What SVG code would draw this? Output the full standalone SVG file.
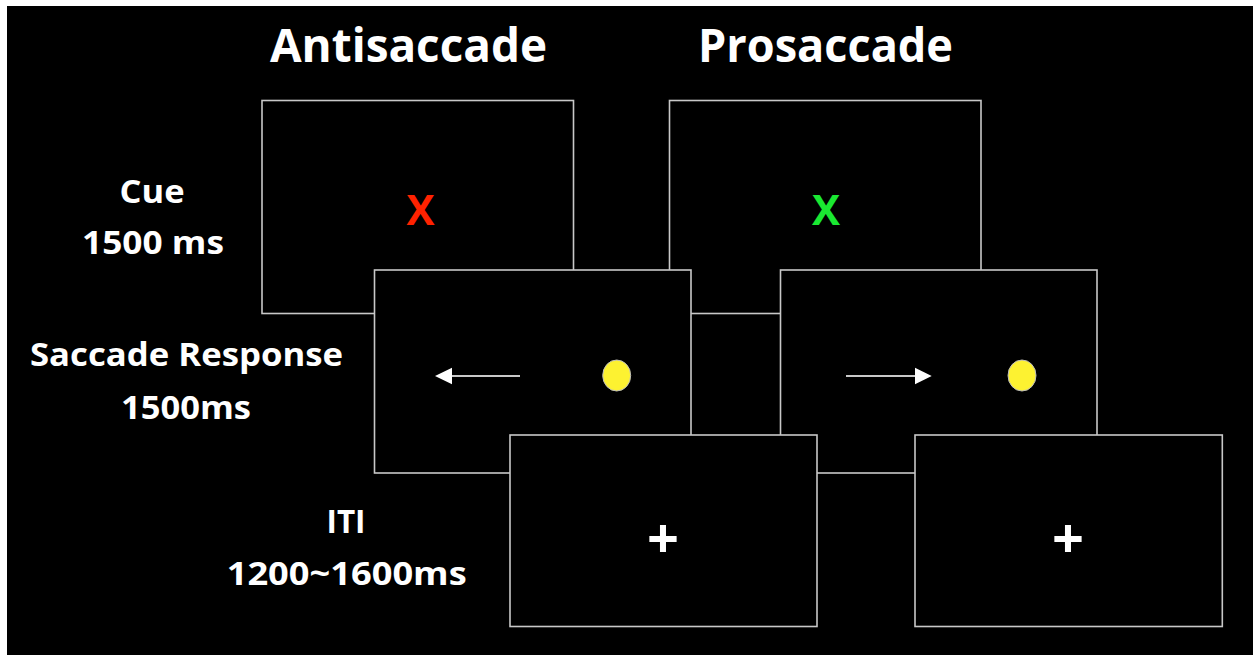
<svg xmlns="http://www.w3.org/2000/svg" width="1253" height="655" viewBox="0 0 1253 655">
<style>
.bg{fill:#000}
.box{fill:#000;stroke:#c8c8c8;stroke-width:1.6}
.t{font-family:"Open Sans","Liberation Sans",sans-serif;font-weight:700;fill:#fff;text-anchor:middle}
.title{font-size:47px}
.lbl{font-size:33px}
.x{font-size:42px}
.plus{font-size:56px}
.dot{fill:#fdf231;stroke:#bdbdbd;stroke-width:1}
.arr{stroke:#c8c8c8;stroke-width:2;fill:none}
.head{fill:#fff}
</style>
<rect x="0" y="0" width="1253" height="655" fill="#fff"/>
<rect class="bg" x="7" y="6" width="1246" height="649"/>
<g id="titles">
<text class="t title" x="408.5" y="61.5" textLength="277" lengthAdjust="spacingAndGlyphs">Antisaccade</text>
<text class="t title" x="825.5" y="62" textLength="255" lengthAdjust="spacingAndGlyphs">Prosaccade</text>
</g>
<g id="labels">
<text class="t lbl" x="152" y="203" textLength="65" lengthAdjust="spacingAndGlyphs">Cue</text>
<text class="t lbl" x="153" y="254" textLength="142" lengthAdjust="spacingAndGlyphs">1500 ms</text>
<text class="t lbl" x="186.5" y="366" textLength="313" lengthAdjust="spacingAndGlyphs">Saccade Response</text>
<text class="t lbl" x="186" y="419" textLength="130" lengthAdjust="spacingAndGlyphs">1500ms</text>
<text class="t lbl" x="346" y="533" textLength="39" lengthAdjust="spacingAndGlyphs">ITI</text>
<text class="t lbl" x="346.7" y="585" textLength="240" lengthAdjust="spacingAndGlyphs">1200~1600ms</text>
</g>
<g id="anti-cue">
<rect class="box" x="262" y="100.5" width="311.5" height="213"/>
<text class="t x" x="420.5" y="225" style="fill:#ff2200">X</text>
</g>
<g id="pro-cue">
<rect class="box" x="669.5" y="100.5" width="311.5" height="213"/>
<text class="t x" x="826" y="225" style="fill:#1ae832">X</text>
</g>
<g id="anti-saccade">
<rect class="box" x="374.5" y="270" width="316.5" height="203"/>
<ellipse class="dot" cx="616.7" cy="375.5" rx="14" ry="15.5"/>
</g>
<g id="pro-saccade">
<rect class="box" x="780.5" y="270" width="316.5" height="203"/>
<ellipse class="dot" cx="1022" cy="375.5" rx="14" ry="15.5"/>
</g>
<g id="connectors">
<line class="arr" x1="520" y1="376" x2="450" y2="376"/>
<polygon class="head" points="435,376 452,367.7 452,384.3"/>
<line class="arr" x1="846" y1="376" x2="916" y2="376"/>
<polygon class="head" points="931.7,376 915,367.7 915,384.3"/>
</g>
<g id="anti-iti">
<rect class="box" x="510" y="435" width="307" height="191.5"/>
<text class="t plus" x="663" y="558">+</text>
</g>
<g id="pro-iti">
<rect class="box" x="915" y="435" width="307.3" height="191.5"/>
<text class="t plus" x="1068" y="558">+</text>
</g>
</svg>
